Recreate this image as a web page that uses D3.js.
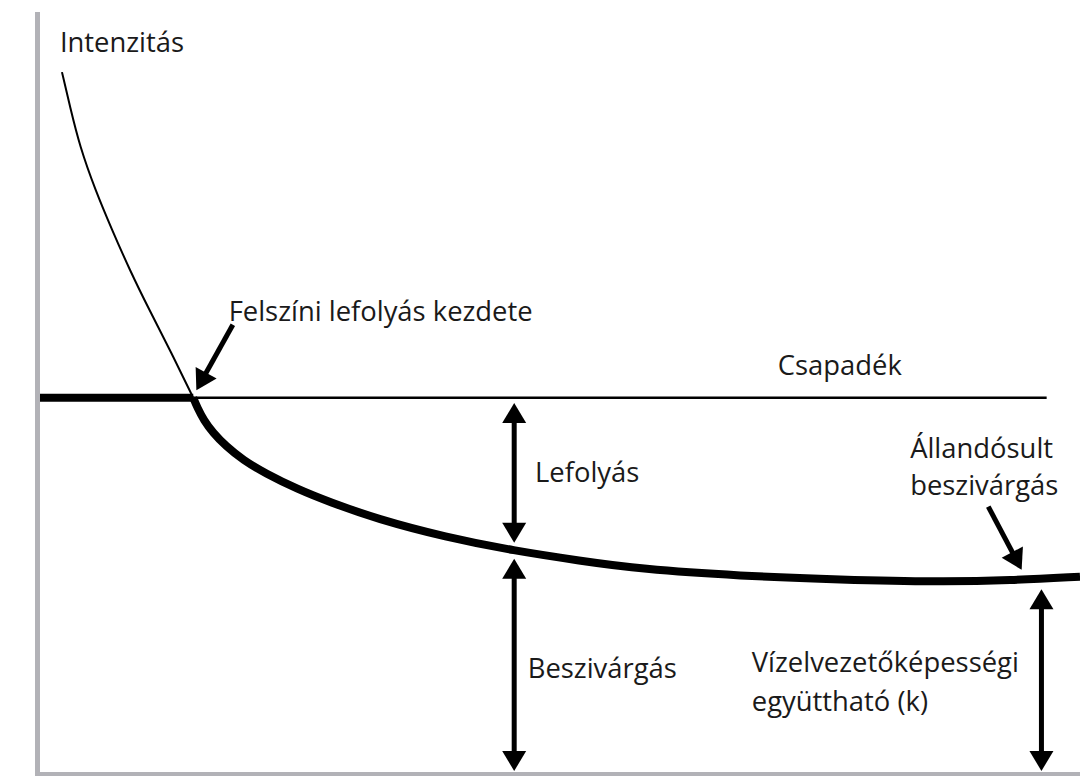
<!DOCTYPE html>
<html><head><meta charset="utf-8">
<script src="https://cdn.jsdelivr.net/npm/d3@7"></script>
<style>
html,body{margin:0;padding:0;background:#fff;}
svg{display:block;}
text{font-family:"Open Sans",sans-serif;font-size:27.4px;fill:#1a1a1a;}
</style></head>
<body>
<svg id="chart" width="1080" height="776"></svg>
<script>
// ---- data (time, intensity) in arbitrary units ----
const capacityT = [2.3, 3.1, 4.0, 5.5, 7.1, 8.8, 10.7, 12.7, 14.9];
const capacityV = [92.1, 87.4, 82.4, 76.6, 71.4, 66.1, 60.8, 55.5, 49.3];

const infilT = [14.9, 15.3, 15.9, 16.8, 18.0, 19.7, 21.8, 24.9, 28.0, 32.5, 39.1, 45.7, 52.0, 57.8, 67.4, 77.0, 86.6, 93.3, 100];
const infilV = [49.3, 48.0, 46.4, 44.7, 43.0, 41.1, 39.4, 37.3, 35.6, 33.4, 31.0, 29.2, 27.9, 26.8, 25.9, 25.4, 25.1, 25.3, 25.8];

const rainIntensity = 49.3;
const pondingT = 14.9;
const rainEndT = 96.8;

// double arrows: t, upper value, lower value
const dblArrowT = [45.7, 45.7, 96.3];
const dblArrowTop = [49.3, 29.2, 25.2];
const dblArrowBottom = [29.2, 0, 0];
const dblArrowTopWidth = [2.5, 8, 8];

// pointer arrows: tail (t,v) -> tip (t,v)
const ptrTailT = [18.7, 91.2];
const ptrTailV = [58.9, 35.0];
const ptrTipT = [15.2, 94.4];
const ptrTipV = [50.3, 26.7];

// labels
const labelText = ["Intenzitás", "Felszíni lefolyás kezdete", "Csapadék", "Lefolyás", "Beszivárgás",
  "Vízelvezetőképességi", "együttható (k)", "Állandósult", "beszivárgás"];
const labelT = [2.1, 18.3, 71.0, 47.7, 47.0, 68.5, 68.5, 83.7, 83.7];
const labelV = [94.7, 59.4, 52.3, 38.2, 12.5, 13.3, 8.1, 41.4, 36.5];

// ---- drawing ----
const svg = d3.select("#chart");
const x = d3.scaleLinear().domain([0, 100]).range([38, 1080]);
const y = d3.scaleLinear().domain([0, 100]).range([773, 12]);

const axisColor = "#b2b2b7";

const line = d3.line().x(d => x(d[0])).y(d => y(d[1])).curve(d3.curveBasis);

// thin infiltration-capacity curve before ponding
svg.append("path")
  .datum(d3.zip(capacityT, capacityV))
  .attr("d", line).attr("fill", "none").attr("stroke", "#000").attr("stroke-width", 2);

// precipitation: thick before ponding, thin after
svg.append("line")
  .attr("x1", x(0)).attr("x2", x(pondingT)).attr("y1", y(rainIntensity)).attr("y2", y(rainIntensity))
  .attr("stroke", "#000").attr("stroke-width", 8);
svg.append("line")
  .attr("x1", x(pondingT)).attr("x2", x(rainEndT)).attr("y1", y(rainIntensity)).attr("y2", y(rainIntensity))
  .attr("stroke", "#000").attr("stroke-width", 2.5);

// thick infiltration curve
svg.append("path")
  .datum(d3.zip(infilT, infilV))
  .attr("d", line).attr("fill", "none").attr("stroke", "#000").attr("stroke-width", 8);

// axes
svg.append("line").attr("x1", x(0) - 0.5).attr("x2", x(0) - 0.5).attr("y1", y(100)).attr("y2", 776)
  .attr("stroke", axisColor).attr("stroke-width", 5);
svg.append("line").attr("x1", x(0) - 3).attr("x2", x(100)).attr("y1", y(0) + 1.5).attr("y2", y(0) + 1.5)
  .attr("stroke", axisColor).attr("stroke-width", 5);

// arrows
const HL = 20, HW = 24, SW = 5;
function head(g, tx, ty, fx, fy) {
  const a = Math.atan2(ty - fy, tx - fx);
  const bx = tx - HL * Math.cos(a), by = ty - HL * Math.sin(a);
  const px = -Math.sin(a) * HW / 2, py = Math.cos(a) * HW / 2;
  g.append("polygon")
    .attr("points", [[tx, ty], [bx + px, by + py], [bx - px, by - py]].map(p => p.join(",")).join(" "))
    .attr("fill", "#000");
}
function arrow(x1, y1, x2, y2, both) {
  const g = svg.append("g");
  const a = Math.atan2(y2 - y1, x2 - x1);
  const sx1 = both ? x1 + (HL - 2) * Math.cos(a) : x1, sy1 = both ? y1 + (HL - 2) * Math.sin(a) : y1;
  const sx2 = x2 - (HL - 2) * Math.cos(a), sy2 = y2 - (HL - 2) * Math.sin(a);
  g.append("line").attr("x1", sx1).attr("y1", sy1).attr("x2", sx2).attr("y2", sy2)
    .attr("stroke", "#000").attr("stroke-width", SW);
  head(g, x2, y2, x1, y1);
  if (both) head(g, x1, y1, x2, y2);
}
dblArrowT.forEach((t, i) => {
  const top = y(dblArrowTop[i]) + dblArrowTopWidth[i] / 2 + 4;
  const bot = dblArrowBottom[i] === 0 ? y(0) - 2 : y(dblArrowBottom[i]) - 4 - 4;
  arrow(x(t), top, x(t), bot, true);
});
ptrTailT.forEach((t, i) => {
  arrow(x(t), y(ptrTailV[i]), x(ptrTipT[i]), y(ptrTipV[i]), false);
});

// labels
svg.selectAll("text.lbl").data(labelText).join("text")
  .attr("class", "lbl")
  .attr("x", (d, i) => x(labelT[i]))
  .attr("y", (d, i) => y(labelV[i]))
  .text(d => d);
</script>
</body></html>
